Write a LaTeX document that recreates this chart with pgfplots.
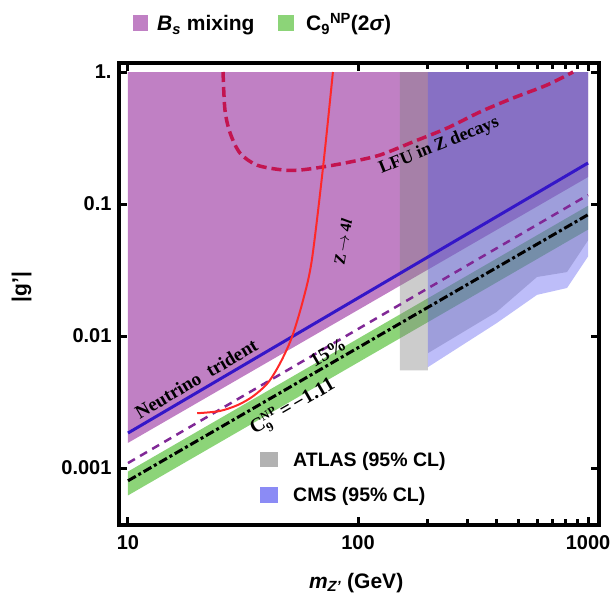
\documentclass[border=0pt]{standalone}
\usepackage{fontspec}
\setmainfont{Liberation Sans}
\newfontfamily\tnr{Liberation Serif}
\usepackage{pgfplots}
\pgfplotsset{compat=1.18}

\definecolor{bsfill}{RGB}{192,128,196}
\definecolor{c9fill}{RGB}{140,212,120}
\definecolor{atlasc}{RGB}{128,128,128}
\definecolor{cmsc}{RGB}{90,90,240}
\definecolor{trident}{RGB}{52,22,200}
\definecolor{pct}{RGB}{128,40,150}
\definecolor{lfu}{RGB}{195,20,80}
\definecolor{zfl}{RGB}{255,40,40}

\begin{document}
\begin{tikzpicture}
\useasboundingbox (0pt,0pt) rectangle (614pt,595pt);
\begin{axis}[
  at={(119pt,70pt)}, anchor=south west,
  scale only axis, width=480pt, height=462pt,
  xmode=log, ymode=log,
  xmin=9.14, xmax=1116, ymin=3.7e-4, ymax=1.17,
  axis line style={line width=3.5pt},
  tick align=inside,
  xtick={10,100,1000}, xticklabels={10,100,1000},
  minor xtick={200,300,400,500,600,700,800,900},
  ytick={0.001,0.01,0.1,1}, yticklabels={0.001,0.01,0.1,1.},
  minor ytick={1e-6},
  major tick length=8pt, minor tick length=6pt,
  tick style={black, line width=3pt},
  tick label style={font=\fontsize{20}{24}\selectfont\bfseries},
  xticklabel style={yshift=-7pt},
  yticklabel style={xshift=-4pt},
  xlabel={\textit{m}\textsubscript{\textit{Z'}} (GeV)},
  ylabel={|g'|},
  label style={font=\fontsize{21}{25}\selectfont\bfseries},
  xlabel style={at={(axis description cs:0.494,-0.125)}, anchor=center},
  ylabel style={at={(axis description cs:-0.203,0.515)}, anchor=center},
  every node/.append style={inner sep=0.5pt},
]
% excluded / preferred regions
\addplot[draw=none, fill=bsfill] coordinates {(10,1) (1000,1) (1000,0.160) (10,0.00155)} --cycle;
\addplot[draw=none, fill=c9fill] coordinates {(10,0.00094) (1000,0.097) (1000,0.064) (10,0.00062)} --cycle;
\addplot[draw=none, fill=atlasc, fill opacity=0.4] coordinates {
  (152,1) (1000,1) (1000,0.053) (810,0.0305) (600,0.028) (400,0.0152)
  (201,0.0074) (201,0.0055) (152,0.0055)} --cycle;
\addplot[draw=none, fill=cmsc, fill opacity=0.4] coordinates {
  (201,1) (1000,1) (1000,0.040) (810,0.0231) (600,0.0205) (400,0.0125) (201,0.0058)} --cycle;

% bounds
\addplot[trident, line width=3pt] coordinates {(10,0.00184) (1000,0.2045)};
\addplot[pct, line width=2.5pt, dash pattern=on 8pt off 6pt] coordinates {(10,0.00109) (1000,0.117)};
\addplot[black, line width=3pt, dash pattern=on 9pt off 3pt on 3pt off 3pt] coordinates {(10,0.00080) (1000,0.083)};
\addplot[lfu, line width=3.5pt, dash pattern=on 10pt off 5pt, smooth] coordinates {
  (25.9,1.0) (26.4,0.515) (27.8,0.345) (30.7,0.243) (36.4,0.197) (47.2,0.181)
  (56,0.181) (70.5,0.191) (92.3,0.208) (124.6,0.235) (173,0.295) (244,0.376)
  (339,0.498) (472,0.635) (663,0.797) (861,1.0)};
\addplot[zfl, line width=2pt, smooth] coordinates {
  (20,0.0026) (25,0.0027) (30,0.0030) (35,0.0035) (40.5,0.0044) (45.8,0.0062)
  (51.6,0.0098) (57.7,0.0187) (63,0.0377) (70.5,0.191) (77.8,1.0)};

% curve labels
\node[rotate=30.5, font=\tnr\bfseries\fontsize{19}{21}\selectfont] at (axis cs:19.8,0.00475) {Neutrino\ \ trident};
\node[rotate=30, font=\tnr\bfseries\fontsize{19}{21}\selectfont] at (axis cs:74,0.0075) {15\%};
\node[rotate=30, font=\tnr\bfseries\fontsize{20}{22}\selectfont] at (axis cs:52,0.0029)
  {C$_{\mbox{\fontsize{13}{14}\selectfont 9}}^{\mbox{\fontsize{12}{13}\selectfont NP}}$\,=\,−1.11};
\node[rotate=22, font=\tnr\bfseries\fontsize{18}{20}\selectfont] at (axis cs:225,0.275) {LFU in Z decays};
\node[rotate=80, font=\tnr\bfseries\fontsize{16}{18}\selectfont] at (axis cs:86,0.0515) {Z\,$\rightarrow$\,4\textit{l}};
\end{axis}

% top legend
\fill[bsfill] (133pt,564pt) rectangle (148pt,580pt);
\node[anchor=base west, inner sep=0pt, font=\fontsize{21}{25}\selectfont\bfseries] at (157pt,564pt)
  {\textit{B}\textsubscript{\textit{s}} mixing};
\fill[c9fill] (278pt,564pt) rectangle (294pt,580pt);
\node[anchor=base west, inner sep=0pt, font=\fontsize{21}{25}\selectfont\bfseries] at (306pt,564pt)
  {C\textsubscript{9}\textsuperscript{NP}(2\textit{σ})};

% inner legend
\fill[black!30] (260pt,128pt) rectangle (278pt,143pt);
\node[anchor=base west, inner sep=0pt, font=\fontsize{19.5}{23}\selectfont\bfseries] at (293pt,128pt)
  {ATLAS (95\% CL)};
\fill[cmsc!70!white] (260pt,92pt) rectangle (278pt,108pt);
\node[anchor=base west, inner sep=0pt, font=\fontsize{19.5}{23}\selectfont\bfseries] at (293pt,93pt)
  {CMS (95\% CL)};
\end{tikzpicture}
\end{document}
